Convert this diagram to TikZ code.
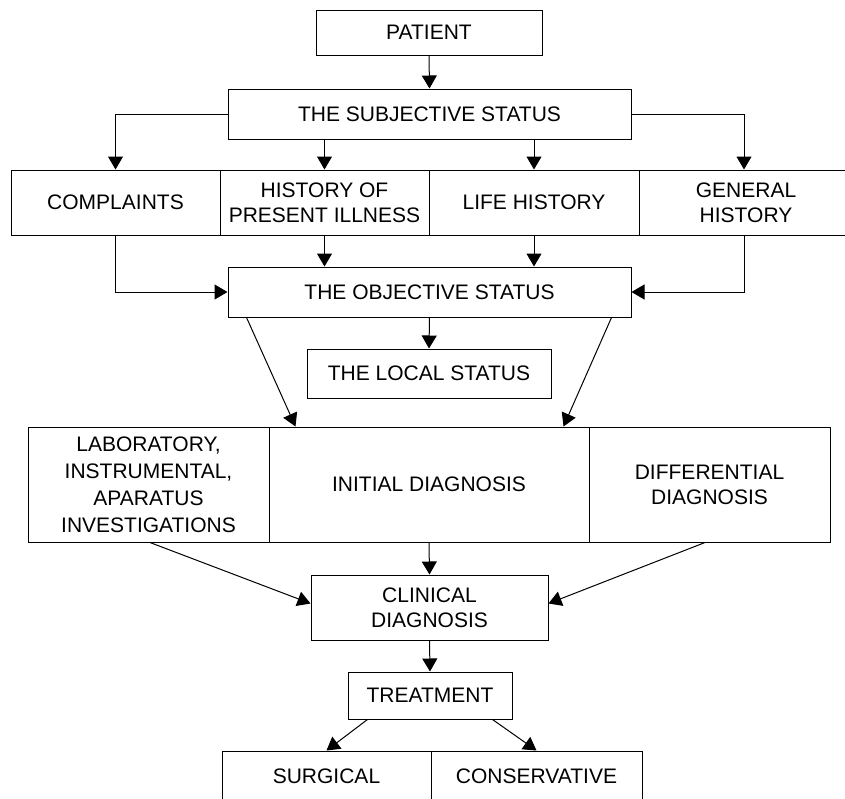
\documentclass[tikz,border=0pt]{standalone}
\usepackage{fontspec}
\setmainfont{Liberation Sans}
\usetikzlibrary{arrows.meta,calc}
\begin{document}
\begin{tikzpicture}[x=1pt,y=-1pt,
  box/.style={draw,line width=1pt,inner sep=0pt,align=center,
    font=\fontsize{21}{25}\selectfont},
  arr/.style={line width=1pt,-{Triangle[length=13pt,width=15pt]}},
  ln/.style={line width=1pt}]
\useasboundingbox (0,0) rectangle (845,798);
\clip (0,0) rectangle (845,798);
\fill[white] (0,0) rectangle (845,798);
\node[box,minimum width=226pt,minimum height=45pt] (patient) at (429,32.5) {PATIENT};
\node[box,minimum width=403pt,minimum height=50pt] (subj) at (429.5,114) {THE SUBJECTIVE STATUS};
\node[box,minimum width=209pt,minimum height=65pt] (compl) at (115.5,202.5) {COMPLAINTS};
\node[box,minimum width=209pt,minimum height=65pt] (hist) at (324.5,202.5) {HISTORY OF\\PRESENT ILLNESS};
\node[box,minimum width=210pt,minimum height=65pt] (life) at (534,202.5) {LIFE HISTORY};
\node[box,minimum width=214pt,minimum height=65pt] (gen) at (746,202.5) {GENERAL\\HISTORY};
\node[box,minimum width=403pt,minimum height=50pt] (obj) at (429.5,292) {THE OBJECTIVE STATUS};
\node[box,minimum width=244pt,minimum height=49pt] (local) at (429,373.5) {THE LOCAL STATUS};
\node[box,minimum width=241pt,minimum height=115pt,font=\fontsize{21}{27}\selectfont] (lab) at (148.5,484.5) {LABORATORY,\\INSTRUMENTAL,\\APARATUS\\INVESTIGATIONS};
\node[box,minimum width=320pt,minimum height=115pt] (init) at (429,484.5) {INITIAL DIAGNOSIS};
\node[box,minimum width=241pt,minimum height=115pt] (diff) at (709.5,484.5) {DIFFERENTIAL\\DIAGNOSIS};
\node[box,minimum width=237pt,minimum height=65pt] (clin) at (429.5,607.5) {CLINICAL\\DIAGNOSIS};
\node[box,minimum width=164pt,minimum height=47pt] (treat) at (430,695.5) {TREATMENT};
\node[box,minimum width=209pt,minimum height=50pt] (surg) at (326.5,776) {SURGICAL};
\node[box,minimum width=211pt,minimum height=50pt] (cons) at (536.5,776) {CONSERVATIVE};
% connectors
\draw[arr] (patient.south) -- (subj.north);
\draw[arr] (subj.west) -| (compl.north);
\draw[arr] (hist.north |- subj.south) -- (hist.north);
\draw[arr] (life.north |- subj.south) -- (life.north);
\draw[arr] (subj.east) -| ($(gen.north)+(-2,0)$);
\draw[arr] (compl.south) |- (obj.west);
\draw[arr] (hist.south) -- (hist.south |- obj.north);
\draw[arr] (life.south) -- (life.south |- obj.north);
\draw[arr] ($(gen.south)+(-2,0)$) |- (obj.east);
\draw[arr] (obj.south) -- (local.north);
\draw[arr] ($(obj.south west)+(19,0)$) -- ($(init.north west)+(27,0)$);
\draw[arr] ($(obj.south east)+(-20,0)$) -- ($(init.north east)+(-26,0)$);
\draw[arr] ($(lab.south)+(1.5,0)$) -- ($(clin.west)+(0,-4)$);
\draw[arr] ($(diff.south)+(-4.5,0)$) -- ($(clin.east)+(0,-4)$);
\draw[arr] (init.south) -- (clin.north);
\draw[arr] (clin.south) -- (treat.north);
\draw[arr] ($(treat.south west)+(20,0)$) -- (surg.north);
\draw[arr] ($(treat.south east)+(-20,0)$) -- (cons.north);
\end{tikzpicture}
\end{document}
